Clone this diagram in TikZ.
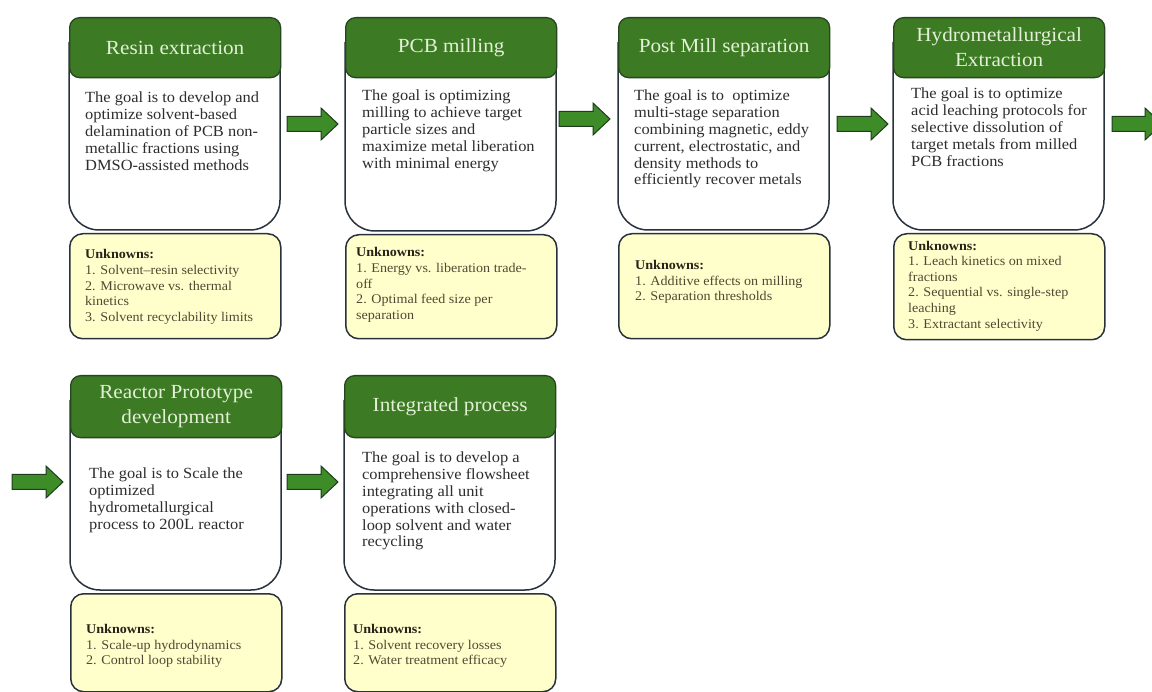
\documentclass[tikz,border=0pt]{standalone}
\usepackage{fontspec}
\setmainfont{Liberation Serif}[FakeStretch=1.06]
\definecolor{hdr}{RGB}{61,122,36}
\definecolor{hdrline}{RGB}{38,70,30}
\definecolor{framec}{RGB}{40,50,60}
\definecolor{ttl}{RGB}{226,240,214}
\definecolor{bodytxt}{RGB}{45,45,45}
\definecolor{ylw}{RGB}{255,255,204}
\definecolor{unktxt}{RGB}{80,72,50}
\definecolor{unkhead}{RGB}{40,35,25}
\definecolor{arr}{RGB}{62,140,40}
\definecolor{arrline}{RGB}{30,60,30}
\tikzset{
  header/.style={draw=hdrline, line width=1.3pt, fill=hdr, rounded corners=10pt,
    minimum width=211pt, minimum height=60pt, anchor=north west, inner sep=0pt,
    text=ttl, font=\fontsize{20}{25}\selectfont, align=center},
  bodyframe/.style={draw=framec, line width=1.5pt, fill=white, rounded corners=30pt},
  unkbox/.style={draw=framec, line width=1.5pt, fill=ylw, rounded corners=13pt,
    minimum width=211pt, anchor=north west, inner sep=0pt},
  bodytext/.style={anchor=north west, inner sep=0pt, align=left, text=bodytxt,
    font=\fontsize{15.5}{16.8}\selectfont},
  unktext/.style={anchor=west, inner sep=0pt, align=left, text=unktxt,
    font=\fontsize{13.3}{15.6}\selectfont},
  blockarrow/.style={draw=arrline, line width=1pt, fill=arr}
}
% #1 id, #2 x left, #3 top, #4 header height, #5 white bottom, #6 yellow bottom, #7 title
\newcommand{\cardframe}[7]{%
  \filldraw[bodyframe] (#2,#3+25) -- (#2,#5) -- (#2+211,#5) -- (#2+211,#3+25);
  \node[header, minimum height=#4] (h#1) at (#2,#3) {#7};
  \node[unkbox, minimum height={#6-#5-3}] (u#1) at (#2,#5+3) {};
}
\newcommand{\barrow}[4]{% #1 name, #2 x0, #3 centre y, #4 length
  \draw[blockarrow] (#2,#3-7.5) -- (#2+#4-17,#3-7.5) -- (#2+#4-17,#3-16) -- (#2+#4,#3)
    -- (#2+#4-17,#3+16) -- (#2+#4-17,#3+7.5) -- (#2,#3+7.5) -- cycle;
  \coordinate (#1) at (#2,#3);
}
\newcommand{\unk}{\textcolor{unkhead}{\textbf{Unknowns:}}}
\begin{document}
\begin{tikzpicture}[x=1pt,y=-1pt]
\useasboundingbox (0,0) rectangle (1152,692);
\clip (0,0) rectangle (1152,692);
\fill[white] (0,0) rectangle (1152,692);

% Row 1
\cardframe{1}{69}{17}{60}{230}{338}{Resin extraction}
\cardframe{2}{345}{17}{60}{231}{338}{PCB milling}
\cardframe{3}{618}{17}{60}{230}{338}{Post Mill separation}
\cardframe{4}{893}{17}{60}{230}{339}{Hydrometallurgical\\Extraction}
% Row 2
\cardframe{5}{70}{375}{62}{590}{691}{Reactor Prototype\\development}
\cardframe{6}{344}{375}{62}{590}{691}{Integrated process}

% Body texts
\node[bodytext] (b1) at (85,92) {The goal is to develop and\\optimize solvent-based\\delamination of PCB non-\\metallic fractions using\\DMSO-assisted methods};
\node[bodytext] (b2) at (362,90) {The goal is optimizing\\milling to achieve target\\particle sizes and\\maximize metal liberation\\with minimal energy};
\node[bodytext] (b3) at (634,90) {The goal is to\ \ optimize\\multi-stage separation\\combining magnetic, eddy\\current, electrostatic, and\\density methods to\\efficiently recover metals};
\node[bodytext] (b4) at (911,88) {The goal is to optimize\\acid leaching protocols for\\selective dissolution of\\target metals from milled\\PCB fractions};
\node[bodytext] (b5) at (89,468) {The goal is to Scale the\\optimized\\hydrometallurgical\\process to 200L reactor};
\node[bodytext] (b6) at (362,452) {The goal is to develop a\\comprehensive flowsheet\\integrating all unit\\operations with closed-\\loop solvent and water\\recycling};

% Unknowns texts
\node[unktext] (t1) at (85,287) {\unk\\1. Solvent–resin selectivity\\2. Microwave vs. thermal\\kinetics\\3. Solvent recyclability limits};
\node[unktext] (t2) at (356,285) {\unk\\1. Energy vs. liberation trade-\\off\\2. Optimal feed size per\\separation};
\node[unktext] (t3) at (635,282) {\unk\\1. Additive effects on milling\\2. Separation thresholds};
\node[unktext] (t4) at (908,286) {\unk\\1. Leach kinetics on mixed\\fractions\\2. Sequential vs. single-step\\leaching\\3. Extractant selectivity};
\node[unktext] (t5) at (86,646) {\unk\\1. Scale-up hydrodynamics\\2. Control loop stability};
\node[unktext] (t6) at (353,646) {\unk\\1. Solvent recovery losses\\2. Water treatment efficacy};

% Arrows
\barrow{a1}{287}{124}{51}
\barrow{a2}{559}{119}{51}
\barrow{a3}{837}{124}{51}
\barrow{a4}{1112}{124}{50}
\barrow{a5}{12}{482}{51}
\barrow{a6}{287}{482}{51}
\end{tikzpicture}
\end{document}
